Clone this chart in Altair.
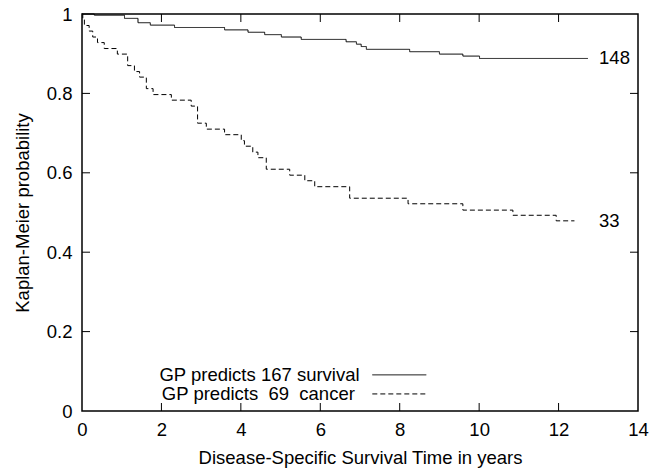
import altair as alt
import pandas as pd

# Kaplan-Meier step curves (time in years, survival probability)
surv_t = [0, 0.31, 1.07, 1.41, 1.72, 2.33, 3.59, 4.18, 4.60, 5.02, 5.52, 6.65, 6.91, 7.03, 7.16, 8.25, 9.00, 9.59, 10.01, 12.74]
surv_p = [1.0, 0.997, 0.989, 0.978, 0.972, 0.966, 0.960, 0.954, 0.948, 0.942, 0.936, 0.930, 0.924, 0.918, 0.911, 0.905, 0.899, 0.894, 0.888, 0.888]

canc_t = [0, 0.02, 0.06, 0.18, 0.27, 0.39, 0.56, 0.89, 1.15, 1.32, 1.45, 1.62, 1.79, 2.25, 2.75, 2.91, 3.13,
          3.59, 4.01, 4.09, 4.30, 4.43, 4.64, 5.23, 5.61, 5.86, 6.74, 8.21, 9.59, 10.85, 11.94, 12.40]
canc_p = [1.0, 0.986, 0.971, 0.957, 0.942, 0.928, 0.913, 0.899, 0.870, 0.855, 0.841, 0.812, 0.797, 0.783, 0.768, 0.725, 0.710,
          0.696, 0.681, 0.667, 0.652, 0.638, 0.609, 0.594, 0.580, 0.565, 0.536, 0.522, 0.506, 0.493, 0.479, 0.479]

groups = ["GP predicts 167 survival", "GP predicts 69 cancer"]
end_counts = ["148", "33"]
legend_labels = ["GP predicts 167 survival", "GP predicts\u00a0\u00a069\u00a0\u00a0cancer"]

x_ticks = [0, 2, 4, 6, 8, 10, 12, 14]
y_ticks = [0, 0.2, 0.4, 0.6, 0.8, 1.0]

W, H = 556, 397
FONT = "Liberation Sans"
FS = 18.5

df = pd.concat([
    pd.DataFrame({"t": surv_t, "p": surv_p, "g": groups[0]}),
    pd.DataFrame({"t": canc_t, "p": canc_p, "g": groups[1]}),
])

xs = alt.Scale(domain=[0, 14], nice=False, zero=False)
ys = alt.Scale(domain=[0, 1], nice=False)
dash_scale = alt.Scale(domain=groups, range=[[1, 0], [5, 3]])

xa = alt.Axis(values=x_ticks, title="Disease-Specific Survival Time in years", labelPadding=9, titlePadding=10,
              labelFlush=False)
ya = alt.Axis(values=y_ticks, format="~g", title="Kaplan-Meier probability", labelPadding=10, titlePadding=14,
              labelFlush=False)

curves = alt.Chart(df).mark_line(interpolate="step-after", color="black", strokeWidth=1).encode(
    x=alt.X("t:Q", scale=xs, axis=xa),
    y=alt.Y("p:Q", scale=ys, axis=ya),
    strokeDash=alt.StrokeDash("g:N", scale=dash_scale, legend=None),
    detail="g:N",
)

# end labels
end_df = pd.DataFrame({"t": [13.02, 13.02], "p": [surv_p[-1], canc_p[-1]], "label": end_counts})
end_text = alt.Chart(end_df).mark_text(align="left", baseline="middle", font=FONT, fontSize=FS, color="black").encode(
    x=alt.X("t:Q", scale=xs, axis=xa), y=alt.Y("p:Q", scale=ys, axis=ya), text="label:N")

# legend (inside plot, bottom)
leg_df = pd.DataFrame({"t": [6.99, 6.87], "p": [0.091, 0.043], "label": legend_labels,
                       "x1": [7.31, 7.31], "x2": [8.67, 8.67], "g": groups})
leg_text = alt.Chart(leg_df).mark_text(align="right", baseline="middle", font=FONT, fontSize=FS, color="black").encode(
    x=alt.X("t:Q", scale=xs, axis=xa), y=alt.Y("p:Q", scale=ys, axis=ya), text="label:N")
leg_lines = alt.Chart(leg_df).mark_rule(color="black", strokeWidth=1).encode(
    x=alt.X("x1:Q", scale=xs, axis=xa), x2="x2:Q", y=alt.Y("p:Q", scale=ys, axis=ya),
    strokeDash=alt.StrokeDash("g:N", scale=dash_scale, legend=None))

# inward ticks on all four sides
xt = pd.DataFrame({"t": x_ticks[1:-1]})
yt = pd.DataFrame({"p": y_ticks[1:-1]})
TL = 8
bottom_ticks = alt.Chart(xt).mark_rule(color="black").encode(
    x=alt.X("t:Q", scale=xs, axis=xa), y=alt.value(H), y2=alt.value(H - TL))
top_ticks = alt.Chart(xt).mark_rule(color="black").encode(
    x=alt.X("t:Q", scale=xs, axis=xa), y=alt.value(0), y2=alt.value(TL))
left_ticks = alt.Chart(yt).mark_rule(color="black").encode(
    y=alt.Y("p:Q", scale=ys, axis=ya), x=alt.value(0), x2=alt.value(TL))
right_ticks = alt.Chart(yt).mark_rule(color="black").encode(
    y=alt.Y("p:Q", scale=ys, axis=ya), x=alt.value(W - TL), x2=alt.value(W))

chart = alt.layer(curves, end_text, leg_text, leg_lines, bottom_ticks, top_ticks, left_ticks, right_ticks).properties(
    width=W, height=H,
    autosize=alt.AutoSizeParams(type="none"),
    padding={"left": 82, "top": 14, "right": 12, "bottom": 57},
    background="white",
).configure_view(stroke="black", strokeWidth=1.5).configure_axis(
    domain=False, ticks=False, grid=False,
    labelFont=FONT, labelFontSize=FS, labelColor="black",
    titleFont=FONT, titleFontSize=FS, titleFontWeight="normal", titleColor="black",
)

chart.save("out.html", embed_options={"renderer": "svg", "actions": False})
